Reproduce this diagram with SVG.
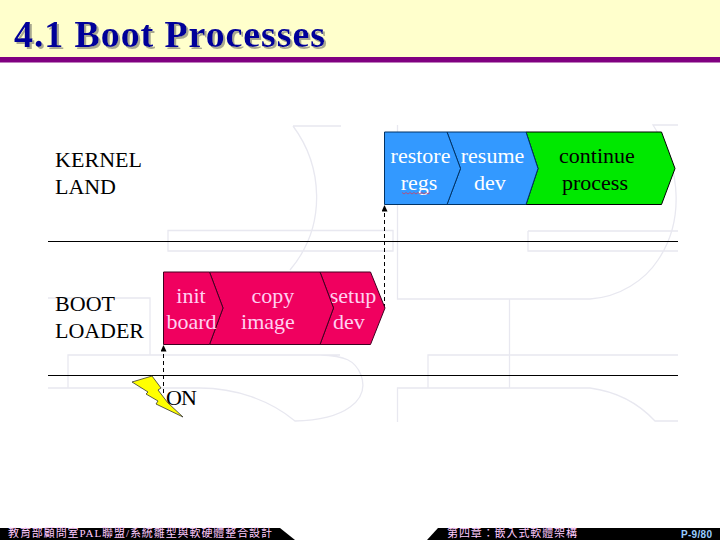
<svg xmlns="http://www.w3.org/2000/svg" width="720" height="540" viewBox="0 0 720 540">
<defs>
<marker id="ah" markerWidth="7" markerHeight="6" refX="6.500" refY="3" orient="auto" markerUnits="userSpaceOnUse"><path d="M0 0L6.500 3L0 6Z" fill="#000"/></marker>
<filter id="sh" x="-5%" y="-20%" width="110%" height="140%"><feDropShadow dx="2" dy="2" stdDeviation="0.500" flood-color="#a8a890"/></filter>
</defs>
<style>
text{font-family:"Liberation Serif","Noto Sans CJK TC",serif}
.g{fill:none;stroke:#e8e8f0;stroke-width:1.300}
.t{font-size:22px;fill:#000}
.w{font-size:22px;fill:#fff;text-anchor:middle}
.b{font-size:22px;fill:#000;text-anchor:middle}
.p{font-size:22px;fill:#ffd0f0;text-anchor:middle}
.r{stroke:#000;stroke-width:1}
.f{font-size:11px;fill:#ffccff}
</style>
<rect width="720" height="540" fill="#fff"/>
<g id="header">
<rect width="720" height="57" fill="#ffffcc"/>
<rect y="57" width="720" height="5.500" fill="#800080"/>
<text x="14" y="47" font-size="38" font-weight="bold" style="fill:#000099" textLength="311" filter="url(#sh)">4.1 Boot Processes</text>
</g>
<g id="backdrop">
<path class="g" d="M293 126H341M293 126C322 165 328 225 290 270M168 230.500H393V251H168ZM397.500 125V299H590C620 297 645 280 658 260C682 225 684 172 653 125H678M528 231H678M528 231V251H678M48 298H150V355M68 388V355H340M48 388H200C235 388 270 400 295 421C345 420 370 400 361 375C355 360 345 356 320 355M428 388V355H678M397.500 422V388H590C620 392 640 405 655 421H678M428 388H510M509.500 299V388"/>
</g>
<g id="connectors">
<line x1="48" y1="241.500" x2="678" y2="241.500" stroke="#000" stroke-width="1.200"/>
<line x1="48" y1="375.500" x2="678" y2="375.500" stroke="#000" stroke-width="1.200"/>
<path d="M384.500 308V205" fill="none" stroke="#000" stroke-width="1" stroke-dasharray="4 3" marker-end="url(#ah)"/>
<path d="M163.500 393V345" fill="none" stroke="#000" stroke-width="1" stroke-dasharray="4 3" marker-end="url(#ah)"/>
</g>
<g id="kernel-land"><text class="t" x="55" y="167" textLength="87">KERNEL</text><text class="t" x="55" y="194" textLength="61">LAND</text></g>
<g id="boot-loader"><text class="t" x="55" y="311" textLength="60">BOOT</text><text class="t" x="55" y="338" textLength="89">LOADER</text></g>
<g id="continue-process">
<path class="r" d="M526 132H661.500L675 168.500L661.500 204.500H526L538 168.500Z" fill="#00e800"/>
<text class="b" x="597" y="163">continue</text><text class="b" x="595" y="190">process</text>
</g>
<g id="resume-dev">
<path d="M447 132H526L538 168.500L526 204.500H447L460.500 168.500Z" fill="#3399ff" stroke="#003366"/>
<text class="w" x="492.500" y="163">resume</text><text class="w" x="490" y="190">dev</text>
</g>
<g id="restore-regs">
<path d="M384.500 132H447L460.500 168.500L447 204.500H384.500Z" fill="#3399ff" stroke="#003366"/>
<text class="w" x="420.500" y="163">restore</text><text class="w" x="419" y="190">regs</text>
<path d="M402 192.500l2 1.500l2-1.500l2 1.500l2-1.500l2 1.500l2-1.500l2 1.500l2-1.500l2 1.500l2-1.500l2 1.500l2-1.500l2 1.500l2-1.500" fill="none" stroke="#d04060" stroke-width="0.800"/>
</g>
<g id="setup-dev">
<path d="M320 272H370.500L385 308L370.500 344.500H320L333.500 308Z" fill="#f0005f" stroke="#400020"/>
<text class="p" x="353" y="303">setup</text><text class="p" x="349" y="329">dev</text>
</g>
<g id="copy-image">
<path d="M209.500 272H320L333.500 308L320 344.500H209.500L223 308Z" fill="#f0005f" stroke="#400020"/>
<text class="p" x="273" y="303">copy</text><text class="p" x="268" y="329">image</text>
</g>
<g id="init-board">
<path d="M163.500 272H209.500L223 308L209.500 344.500H163.500Z" fill="#f0005f" stroke="#400020"/>
<text class="p" x="191" y="303">init</text><text class="p" x="191.500" y="329">board</text>
</g>
<g id="on">
<path d="M132 382L152 376L161 388L158 390L168 403L183 417L156 404L158 401L146 394L148 392Z" fill="#ffff00" stroke="#333" stroke-width="0.800"/>
<text class="t" x="166" y="405" textLength="31">ON</text>
</g>
<g id="footer">
<path d="M0 528H280L295 540H0Z" fill="#000"/>
<path d="M438 528H720V540H427Z" fill="#000"/>
<text class="f" x="8" y="537" textLength="264">教育部顧問室PAL聯盟/系統雛型與軟硬體整合設計</text>
<text class="f" x="447" y="537" textLength="130">第四章：嵌入式軟體架構</text>
<text x="681" y="538" font-size="10" font-weight="bold" style="fill:#99ccff;font-family:'Liberation Sans',sans-serif" textLength="31">P-9/80</text>
</g>
</svg>
